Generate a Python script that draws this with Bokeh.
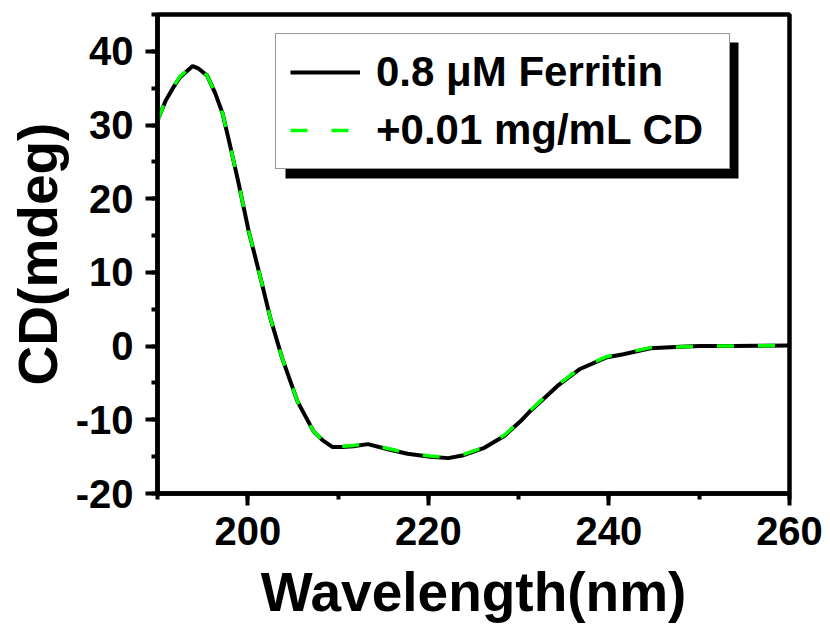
from bokeh.plotting import figure
from bokeh.models import (Legend, LegendItem, SingleIntervalTicker, BoxAnnotation,
                          ColumnDataSource, PrintfTickFormatter)
from bokeh.embed import file_html
from bokeh.resources import INLINE

# ---- data ----
wavelength = [190.0, 190.9, 191.7, 192.5, 193.9, 194.5, 195.5, 196.4, 197.2, 198.1,
              199.0, 200.1, 201.4, 202.5, 203.8, 205.5, 207.3, 208.3, 209.4, 210.5,
              211.7, 213.3, 215.5, 217.7, 220.2, 222.2, 223.9, 226.2, 228.4, 230.2,
              231.3, 234.3, 236.8, 239.8, 241.6, 244.6, 247.9, 250.1, 253.8, 256.5,
              260.0]
cd_ferritin = [30.6, 33.3, 35.0, 36.5, 38.0, 37.7, 36.7, 34.3, 31.6, 26.9,
               22.0, 15.6, 9.3, 3.8, -1.6, -7.5, -11.6, -12.8, -13.7, -13.7,
               -13.6, -13.3, -14.0, -14.6, -15.0, -15.2, -14.8, -13.8, -12.2, -10.2,
               -8.8, -5.4, -3.1, -1.5, -1.1, -0.3, -0.1, 0.0, 0.0, 0.05,
               0.1]
cd_with_cd = [30.5, 33.4, 35.1, 36.6, 38.1, 37.8, 36.7, 34.3, 31.6, 26.9,
              22.0, 15.6, 9.3, 3.8, -1.6, -7.5, -11.6, -12.8, -13.6, -13.6,
              -13.5, -13.2, -13.9, -14.5, -14.9, -15.1, -14.7, -13.7, -12.1, -10.1,
              -8.7, -5.3, -3.0, -1.4, -1.0, -0.2, -0.1, 0.0, 0.0, 0.05,
              0.1]
labels = ["0.8 \u03bcM Ferritin", "+0.01 mg/mL CD"]
x_tick_interval = 20
y_tick_interval = 10

FONT = "Liberation Sans"

p = figure(width=830, height=628,
           x_range=(190, 260), y_range=(-20, 45),
           output_backend="svg", toolbar_location=None,
           min_border_left=157, min_border_right=41, min_border_top=14,
           min_border_bottom=135, background_fill_color="white")
p.grid.visible = False
p.outline_line_color = "black"
p.outline_line_width = 4.5

p.xaxis.ticker = SingleIntervalTicker(interval=x_tick_interval, num_minor_ticks=2)
p.yaxis.ticker = SingleIntervalTicker(interval=y_tick_interval, num_minor_ticks=2)
p.xaxis.formatter = PrintfTickFormatter(format="%d")
p.yaxis.formatter = PrintfTickFormatter(format="%d")

for ax in (p.xaxis, p.yaxis):
    ax.axis_line_width = 4.5
    ax.axis_line_color = "black"
    ax.major_tick_line_width = 4
    ax.minor_tick_line_width = 4
    ax.major_tick_out = 12
    ax.major_tick_in = 0
    ax.minor_tick_out = 6
    ax.minor_tick_in = 0
    ax.major_label_text_font = FONT
    ax.major_label_text_font_style = "bold"
    ax.major_label_text_font_size = "40px"
    ax.major_label_text_color = "black"
    ax.axis_label_text_font = FONT
    ax.axis_label_text_font_style = "bold"
    ax.axis_label_text_color = "black"

p.xaxis.axis_label = "Wavelength(nm)"
p.yaxis.axis_label = "CD(mdeg)"
p.xaxis.axis_label_text_font_size = "55px"
p.yaxis.axis_label_text_font_size = "55px"
p.xaxis.major_label_standoff = 11
p.yaxis.major_label_standoff = 12
p.xaxis.axis_label_standoff = 13
p.yaxis.axis_label_standoff = 4

src = ColumnDataSource(dict(x=wavelength, y1=cd_ferritin, y2=cd_with_cd))
r1 = p.line("x", "y1", source=src, line_color="black", line_width=4)
r2 = p.line("x", "y2", source=src, line_color="#00FF00", line_width=3.5,
            line_dash="17 24")

# legend shadow (screen units relative to the frame, y up from frame bottom)
shadow = BoxAnnotation(left=128, right=581, top=451, bottom=315,
                       left_units="screen", right_units="screen",
                       top_units="screen", bottom_units="screen",
                       fill_color="black", fill_alpha=1.0, line_alpha=0)
p.add_layout(shadow)

legend = Legend(items=[LegendItem(label=labels[0], renderers=[r1]),
                       LegendItem(label=labels[1], renderers=[r2])],
                location=(118, 324), orientation="vertical",
                label_text_font=FONT, label_text_font_style="bold",
                label_text_font_size="42px", label_text_color="black",
                glyph_width=70, glyph_height=40, label_standoff=16,
                label_width=339,
                padding=14, spacing=10, margin=0,
                border_line_color="#333333", border_line_width=1.5,
                background_fill_color="white", background_fill_alpha=1.0)
p.add_layout(legend)

open("out.html", "w").write(file_html(p, INLINE))
